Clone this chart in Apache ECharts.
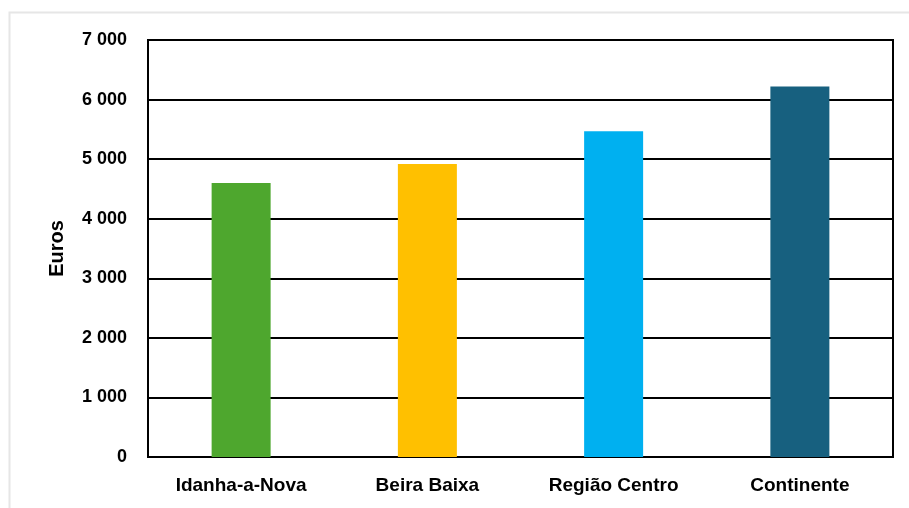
<!DOCTYPE html>
<html>
<head>
<meta charset="utf-8">
<script src="https://cdn.jsdelivr.net/npm/echarts@6/dist/echarts.min.js"></script>
<style>
  html, body { margin: 0; padding: 0; background: #ffffff; }
  #chart { width: 909px; height: 508px; }
</style>
</head>
<body>
<div id="chart"></div>
<script>
// Regional comparison, values in euros
const categories = ['Idanha-a-Nova', 'Beira Baixa', 'Região Centro', 'Continente'];
const values = [4600, 4920, 5470, 6220];
const barColors = ['#4ea72e', '#ffc000', '#00b0f0', '#17607f'];
const yTicks = { min: 0, max: 7000, interval: 1000 };
const yAxisName = 'Euros';

const FONT = '"Liberation Sans", Arial, sans-serif';

// thousands separated by a space, e.g. "6 000"
function fmt(v) {
  return String(v).replace(/\B(?=(\d{3})+(?!\d))/g, ' ');
}

const chart = echarts.init(document.getElementById('chart'), null, { renderer: 'canvas' });

chart.setOption({
  animation: false,
  backgroundColor: '#ffffff',
  graphic: [{
    type: 'rect',
    left: 7, top: 10,
    shape: { width: 930, height: 520 },
    style: { fill: 'none', stroke: '#e6e6e6', lineWidth: 2 },
    silent: true
  }],
  grid: {
    left: 148, right: 16, top: 40, bottom: 51,
    show: true, borderColor: '#000', borderWidth: 2, backgroundColor: 'transparent'
  },
  xAxis: {
    type: 'category',
    data: categories,
    axisLine: { show: true, lineStyle: { color: '#000', width: 2 } },
    axisTick: { show: false },
    axisLabel: { color: '#000', fontFamily: FONT, fontWeight: 'bold', fontSize: 19, margin: 19 }
  },
  yAxis: {
    type: 'value',
    min: yTicks.min, max: yTicks.max, interval: yTicks.interval,
    name: yAxisName,
    nameLocation: 'middle',
    nameGap: 81,
    nameRotate: 90,
    nameTextStyle: { color: '#000', fontFamily: FONT, fontWeight: 'bold', fontSize: 20 },
    axisLine: { show: true, lineStyle: { color: '#000', width: 2 } },
    axisTick: { show: false },
    axisLabel: { color: '#000', fontFamily: FONT, fontWeight: 'bold', fontSize: 18, margin: 21, formatter: fmt },
    splitLine: { show: true, lineStyle: { color: '#000', width: 2 } }
  },
  series: [{
    type: 'bar',
    barWidth: 59,
    data: values.map((v, i) => ({ value: v, itemStyle: { color: barColors[i] } }))
  }]
});
</script>
</body>
</html>
